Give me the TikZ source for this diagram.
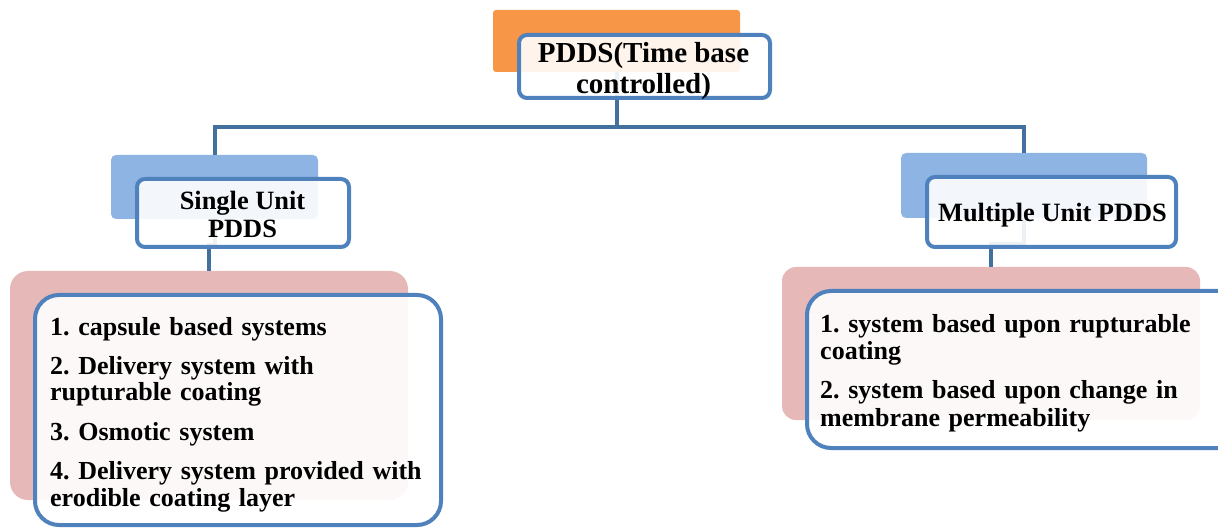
\documentclass[tikz,border=0pt]{standalone}
\usepackage{fontspec}
\setmainfont{Liberation Serif}
\frenchspacing
\definecolor{orangeC}{HTML}{F79646}
\definecolor{lblueC}{HTML}{8EB4E3}
\definecolor{pinkC}{HTML}{E6B9B8}
\definecolor{borderC}{HTML}{4F81BD}
\definecolor{connC}{HTML}{41719C}
\begin{document}
\begin{tikzpicture}[x=1pt,y=-1pt,
  backbox/.style={fill=#1, draw=none, inner sep=0pt, outer sep=0pt},
  frontbox/.style={draw=borderC, line width=4pt, fill=white, fill opacity=0.9, text opacity=1,
    inner sep=0pt, outer sep=0pt},
  boxtext/.style={inner sep=0pt, align=center},
  conn/.style={draw=connC, line width=4pt},
  listtext/.style={anchor=base west, inner sep=0pt, align=left, font=\fontsize{26}{27}\selectfont\bfseries}
]
\useasboundingbox (0,0) rectangle (1218,529);

% back boxes
\node[backbox=orangeC, rounded corners=3pt, minimum width=247pt, minimum height=62pt] (rootback) at (616.5,41) {};
\node[backbox=lblueC, rounded corners=5pt, minimum width=207pt, minimum height=64pt] (singleback) at (214.5,187) {};
\node[backbox=lblueC, rounded corners=5pt, minimum width=246pt, minimum height=65pt] (multiback) at (1024,185.5) {};
\node[backbox=pinkC, rounded corners=18pt, minimum width=398pt, minimum height=229pt] (pinkL) at (209,385.5) {};
\node[backbox=pinkC, rounded corners=14pt, minimum width=418pt, minimum height=153pt] (pinkR) at (991,343.5) {};

% connectors
\draw[conn] (rootback.south) -- (rootback.south |- 0,127) -| (singleback.north);
\draw[conn] (rootback.south) -- (rootback.south |- 0,127) -| (multiback.north);
\draw[conn] (singleback.south) -- ++(0,26) -| (pinkL.north);
\draw[conn] (multiback.south) -- ++(0,26) -| (pinkR.north);

% front boxes
\node[frontbox, rounded corners=8pt, minimum width=251pt, minimum height=63pt] (root) at (644.5,66.5) {};
\node[frontbox, rounded corners=8pt, minimum width=212pt, minimum height=68pt] (single) at (243,213) {};
\node[frontbox, rounded corners=8pt, minimum width=249pt, minimum height=70pt] (multi) at (1051.5,212) {};
\node[frontbox, rounded corners=24pt, minimum width=406pt, minimum height=230pt] (listL) at (238,410) {};
\node[frontbox, rounded corners=24pt, minimum width=450pt, minimum height=157pt] (listR) at (1032,369.5) {};

% box texts
\node[boxtext, font=\fontsize{29}{31}\selectfont\bfseries] (roottext) at (643.5,71) {PDDS(Time base\\controlled)};
\node[boxtext, font=\fontsize{26.4}{28}\selectfont\bfseries] (singletext) at (242.5,214.5) {Single Unit\\PDDS};
\node[boxtext, font=\fontsize{26.4}{28}\selectfont\bfseries] (multitext) at (1052.5,215.5) {Multiple Unit PDDS};

% list texts
\node[listtext, text width=385pt] (listLtext) at (50,335) {1. capsule based systems\\[12pt]
2. Delivery system with\\rupturable coating\\[12pt]
3. Osmotic system\\[12pt]
4. Delivery system provided with\\erodible coating layer};
\node[listtext, text width=385pt] (listRtext) at (820,333) {1. system based upon rupturable\\coating\\[12pt]
2. system based upon change in\\membrane permeability};
\end{tikzpicture}
\end{document}
